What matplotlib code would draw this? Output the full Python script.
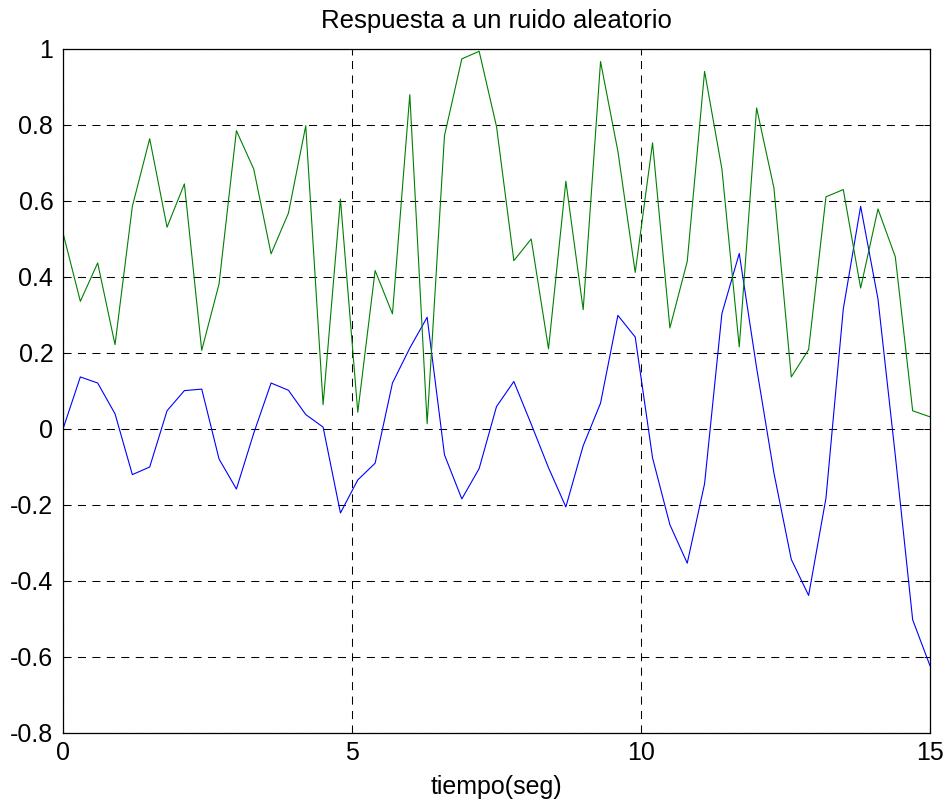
import matplotlib
matplotlib.use("Agg")
import matplotlib.pyplot as plt
import numpy as np

# ── datos ─────────────────────────────────────────────────────────────
t = np.linspace(0, 15, 51)   # paso de 0.3 s

ruido = [0.516, 0.336, 0.437, 0.222, 0.586, 0.764, 0.531, 0.645, 0.207, 0.382,
         0.785, 0.684, 0.461, 0.568, 0.798, 0.064, 0.605, 0.044, 0.417, 0.303,
         0.880, 0.014, 0.772, 0.974, 0.994, 0.796, 0.443, 0.500, 0.211, 0.652,
         0.314, 0.967, 0.731, 0.412, 0.753, 0.266, 0.441, 0.941, 0.684, 0.216,
         0.845, 0.634, 0.137, 0.209, 0.611, 0.630, 0.371, 0.579, 0.453, 0.048,
         0.032]

respuesta = [0.000, 0.137, 0.121, 0.040, -0.120, -0.100, 0.048, 0.101, 0.105, -0.079,
             -0.158, -0.011, 0.121, 0.102, 0.038, 0.005, -0.221, -0.134, -0.090, 0.121,
             0.213, 0.294, -0.068, -0.184, -0.104, 0.059, 0.125, 0.013, -0.102, -0.205,
             -0.044, 0.068, 0.299, 0.242, -0.076, -0.252, -0.353, -0.144, 0.304, 0.462,
             0.161, -0.116, -0.343, -0.438, -0.182, 0.316, 0.586, 0.342, -0.070, -0.502,
             -0.623]

xticks = [0, 5, 10, 15]
yticks = [-0.8, -0.6, -0.4, -0.2, 0, 0.2, 0.4, 0.6, 0.8, 1]
ytick_labels = ["-0.8", "-0.6", "-0.4", "-0.2", "0", "0.2", "0.4", "0.6", "0.8", "1"]

# ── figura ────────────────────────────────────────────────────────────
plt.rcParams["font.family"] = ["Liberation Sans", "DejaVu Sans"]
plt.rcParams["axes.unicode_minus"] = False
plt.rcParams["lines.scale_dashes"] = False

fig = plt.figure(figsize=(9.49, 8.08), dpi=100)
ax = fig.add_axes([63 / 949, 1 - 733 / 808, 867 / 949, 684 / 808])

ax.plot(t, respuesta, color="#0000ff", lw=0.8)
ax.plot(t, ruido, color="#008000", lw=0.8)

ax.set_xlim(0, 15)
ax.set_ylim(-0.8, 1)
ax.set_xticks(xticks)
ax.set_xticklabels([str(v) for v in xticks])
ax.set_yticks(yticks)
ax.set_yticklabels(ytick_labels)

ax.grid(True, color="black", lw=0.75, linestyle=(0, (5.8, 4.6)))
ax.tick_params(direction="in", top=True, right=True, length=4, width=0.75,
               labelsize=18)
ax.tick_params(axis="x", pad=6)
ax.tick_params(axis="y", pad=7)
for s in ax.spines.values():
    s.set_linewidth(0.9)

ax.set_title("Respuesta a un ruido aleatorio", fontsize=18.5, pad=15)
ax.set_xlabel("tiempo(seg)", fontsize=18, labelpad=7)

fig.savefig("out.png", dpi=100)
plt.close(fig)
